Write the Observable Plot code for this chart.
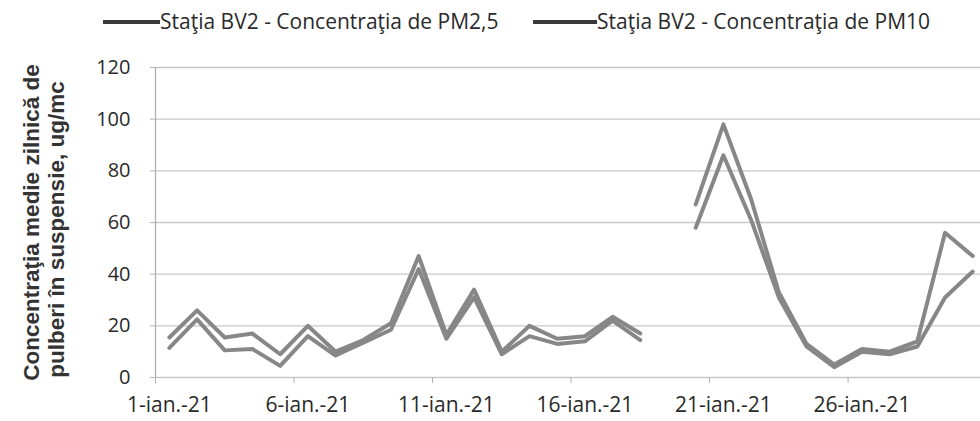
<!DOCTYPE html>
<html>
<head>
<meta charset="utf-8">
<script src="https://cdn.jsdelivr.net/npm/d3@7"></script>
<script src="https://cdn.jsdelivr.net/npm/@observablehq/plot@0.6"></script>
<style>
  html, body { margin: 0; padding: 0; background: #fff; }
  #wrap { position: relative; width: 980px; height: 421px; overflow: hidden; }
  .leg { position: absolute; top: 7px; font-family: "Open Sans", sans-serif; font-size: 21px; color: #2a2a2a; white-space: nowrap; line-height: 28px; }
  .sw { position: absolute; top: 20px; height: 4px; background: #3a3a3a; }
</style>
</head>
<body>
<div id="wrap">
  <div class="sw" style="left:103px;width:57px"></div>
  <div class="leg" id="l1" style="left:160px"></div>
  <div class="sw" style="left:533px;width:64px"></div>
  <div class="leg" id="l2" style="left:597px"></div>
</div>
<script>
const days = [1,2,3,4,5,6,7,8,9,10,11,12,13,14,15,16,17,18,19,20,21,22,23,24,25,26,27,28,29,30];
const pm10 = [15.5,26,15.5,17,9,20,10,14.5,21,47,16.5,34,10,20,15,16,23.5,17,null,67,98,69,33,13,5,11,10,14,56,47];
const pm25 = [11.5,22.5,10.5,11,4.5,16,8.5,13.5,18.5,42,15,31,9,16,13,14,22,14.5,null,58,86,61,31,12,4,10,9,12,31,41];
const seriesNames = ["Staţia BV2 - Concentraţia de PM2,5", "Staţia BV2 - Concentraţia de PM10"];
const yTicks = [0,20,40,60,80,100,120];
const xLabelDays = [1,6,11,16,21,26];
const xTickBounds = [0.5,5.5,10.5,15.5,20.5,25.5];
const yTitle = ["Concentraţia medie zilnică de", "pulberi în suspensie, ug/mc"];

document.getElementById("l1").textContent = seriesNames[0];
document.getElementById("l2").textContent = seriesNames[1];

const rows10 = days.map((d, i) => ({day: d, v: pm10[i]}));
const rows25 = days.map((d, i) => ({day: d, v: pm25[i]}));

const chart = Plot.plot({
  width: 980,
  height: 421,
  marginLeft: 155,
  marginRight: 0,
  marginTop: 67,
  marginBottom: 44,
  style: {background: "transparent", fontFamily: "Open Sans, sans-serif"},
  x: {type: "linear", domain: [0.5, 30.28], label: null},
  y: {domain: [0, 120], label: null},
  marks: [
    Plot.gridY(yTicks, {stroke: "#c8c8c8", strokeOpacity: 1, strokeWidth: 1.3}),
    Plot.ruleX([0.5], {stroke: "#b0b0b0", strokeWidth: 1.3}),
    Plot.axisY(yTicks, {label: null, tickSize: 5, tickPadding: 20, stroke: "#b0b0b0", fontSize: 20, fill: "#2a2a2a", tickFormat: d => String(d)}),
    Plot.axisX(xTickBounds, {label: null, tickSize: 6, tickPadding: 0, stroke: "#b0b0b0", tickFormat: () => ""}),
    Plot.axisX(xLabelDays, {label: null, tickSize: 0, tickPadding: 20, fontSize: 21, fill: "#2a2a2a", tickFormat: d => `${d}-ian.-21`}),
    Plot.lineY(rows25, {x: "day", y: "v", stroke: "#878787", strokeWidth: 4}),
    Plot.lineY(rows10, {x: "day", y: "v", stroke: "#878787", strokeWidth: 4}),
    Plot.text([yTitle[0]], {frameAnchor: "left", textAnchor: "middle", dx: -124, dy: 0, rotate: -90, fontSize: 22.5, fontWeight: "bold", fontFamily: "Liberation Sans, Arial, sans-serif", fill: "#333"}),
    Plot.text([yTitle[1]], {frameAnchor: "left", textAnchor: "middle", dx: -99, dy: 7, rotate: -90, fontSize: 22.5, fontWeight: "bold", fontFamily: "Liberation Sans, Arial, sans-serif", fill: "#333"})
  ]
});
chart.style.position = "absolute";
chart.style.left = "0";
chart.style.top = "0";
document.getElementById("wrap").appendChild(chart);
</script>
</body>
</html>
